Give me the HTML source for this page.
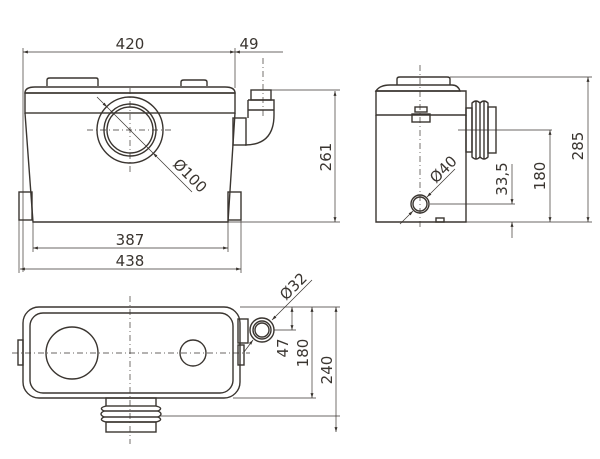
<!DOCTYPE html>
<html><head><meta charset="utf-8"><style>
html,body{margin:0;padding:0;background:#fff;}
svg{display:block}
text{font-family:"DejaVu Sans","Liberation Sans",sans-serif;font-size:15px;fill:#3a3530}
</style></head><body>
<svg width="600" height="459" viewBox="0 0 600 459" xmlns="http://www.w3.org/2000/svg">
<defs>
<marker id="a" viewBox="0 0 10 10" refX="10" refY="5" markerWidth="7" markerHeight="7" orient="auto-start-reverse"><path d="M0,2 L10,5 L0,8 z" fill="#3a3530"/></marker>
</defs>
<g fill="none" stroke="#3a3530" stroke-width="1.4">
<!-- FRONT VIEW -->
<path d="M47,86 V80 Q47,78 50,78 H96 Q98,78 98,80 V86"/>
<path d="M181,86 V82 Q181,80 184,80 H204 Q207,80 207,82 V86"/>
<path d="M25,93 Q25,87 35,87 H225 Q235,87 235,93 Z" />
<rect x="25" y="93" width="210" height="20"/>
<path d="M25,113 L33,222 H228 L235,113"/>
<rect x="19" y="192" width="13" height="28"/>
<rect x="228" y="192" width="13" height="28"/>
<circle cx="130" cy="130" r="33"/>
<circle cx="130" cy="130" r="26"/>
<circle cx="130" cy="130" r="23"/>
<rect x="233" y="118" width="13" height="27"/>
<rect x="251" y="90" width="20" height="10"/>
<path d="M248,100 H274 V115 Q274,145 245,145 M248,100 V118"/>
<line x1="248" y1="110" x2="274" y2="110"/>
</g>
<g fill="none" stroke="#3a3530" stroke-width="0.7">
<line x1="130" y1="88" x2="130" y2="175" stroke-dasharray="6,3,1,3"/>
<line x1="87" y1="130" x2="173" y2="130" stroke-dasharray="6,3,1,3"/>
<line x1="263" y1="58" x2="263" y2="118" stroke-dasharray="6,3,1,3"/>
<line x1="23" y1="48" x2="23" y2="272"/>
<line x1="235" y1="48" x2="235" y2="88"/>
<line x1="263" y1="52" x2="283" y2="52"/>
<line x1="23" y1="52" x2="235" y2="52" marker-start="url(#a)" marker-end="url(#a)"/>
<line x1="235" y1="52" x2="263" y2="52" marker-start="url(#a)"/>
<line x1="271" y1="90" x2="340" y2="90"/>
<line x1="228" y1="222" x2="340" y2="222"/>
<line x1="335" y1="91" x2="335" y2="222" marker-start="url(#a)" marker-end="url(#a)"/>
<line x1="33" y1="222" x2="33" y2="252"/>
<line x1="228" y1="222" x2="228" y2="252"/>
<line x1="33" y1="248" x2="228" y2="248" marker-start="url(#a)" marker-end="url(#a)"/>
<line x1="19" y1="220" x2="19" y2="273"/>
<line x1="241" y1="220" x2="241" y2="273"/>
<line x1="20" y1="269" x2="241" y2="269" marker-start="url(#a)" marker-end="url(#a)"/>
<line x1="97" y1="97" x2="107" y2="107" marker-end="url(#a)"/>
<line x1="107" y1="107" x2="153" y2="153"/>
<line x1="192" y1="192" x2="153" y2="153" marker-end="url(#a)"/>
</g>
<text x="130" y="49" text-anchor="middle">420</text>
<text x="249" y="49" text-anchor="middle">49</text>
<text x="130" y="245" text-anchor="middle">387</text>
<text x="130" y="266" text-anchor="middle">438</text>
<text transform="translate(331,157) rotate(-90)" text-anchor="middle">261</text>
<text transform="translate(172,165) rotate(45)">Ø100</text>

<!-- SIDE VIEW -->
<g fill="none" stroke="#3a3530" stroke-width="1.4">
<path d="M397,85 V79 Q397,77 400,77 H447 Q450,77 450,79 V85"/>
<path d="M390,85 H452 Q458,85 460,91 H376 Q380,85 390,85 Z"/>
<path d="M376,91 H466 V115 H376 Z"/>
<path d="M376,115 V222 H466 V115"/>
<rect x="415" y="107" width="12" height="5"/>
<rect x="412" y="114" width="18" height="8"/>
<rect x="466" y="108" width="6" height="44"/>
<path d="M472,103 Q476,99 480,103 Q484,99 488,103 V157 Q484,161 480,157 Q476,161 472,157 Z"/>
<line x1="476" y1="101" x2="476" y2="159"/><line x1="480" y1="103" x2="480" y2="157"/><line x1="484" y1="101" x2="484" y2="159"/>
<rect x="488" y="107" width="8" height="46"/>
<circle cx="420" cy="204" r="9"/>
<circle cx="420" cy="204" r="7"/>
<rect x="436" y="218" width="8" height="4"/>
</g>
<g fill="none" stroke="#3a3530" stroke-width="0.7">
<line x1="420" y1="65" x2="420" y2="230" stroke-dasharray="6,3,1,3"/>
<line x1="458" y1="130" x2="552" y2="130"/>
<line x1="450" y1="77" x2="592" y2="77"/>
<line x1="466" y1="222" x2="592" y2="222"/>
<line x1="430" y1="204" x2="515" y2="204"/>
<line x1="550" y1="130" x2="550" y2="222" marker-start="url(#a)" marker-end="url(#a)"/>
<line x1="588" y1="77" x2="588" y2="222" marker-start="url(#a)" marker-end="url(#a)"/>
<line x1="512" y1="164" x2="512" y2="204" marker-end="url(#a)"/>
<line x1="512" y1="238" x2="512" y2="222" marker-end="url(#a)"/>
<line x1="400" y1="224" x2="413" y2="211" marker-end="url(#a)"/>
<line x1="455" y1="169" x2="427" y2="197" marker-end="url(#a)"/>
</g>
<text transform="translate(545,176) rotate(-90)" text-anchor="middle">180</text>
<text transform="translate(583,146) rotate(-90)" text-anchor="middle">285</text>
<text transform="translate(507,179) rotate(-90)" text-anchor="middle">33,5</text>
<text transform="translate(436,184) rotate(-45)">Ø40</text>

<!-- TOP VIEW -->
<g fill="none" stroke="#3a3530" stroke-width="1.4">
<rect x="23" y="307" width="217" height="91" rx="16"/>
<rect x="30" y="313" width="203" height="80" rx="13"/>
<circle cx="72" cy="353" r="26"/>
<circle cx="193" cy="353" r="13"/>
<rect x="18" y="340" width="5" height="25"/>
<rect x="238" y="345" width="6" height="20"/>
<rect x="238" y="319" width="10" height="24"/>
<circle cx="262" cy="330" r="12"/>
<circle cx="262" cy="330" r="9"/>
<circle cx="262" cy="330" r="7"/>
<rect x="106" y="398" width="50" height="8"/>
<path d="M106,406 Q98,408 104,411 Q98,414 104,417 Q98,420 106,422 H156 Q164,420 158,417 Q164,414 158,411 Q164,408 156,406"/>
<line x1="104" y1="411" x2="158" y2="411"/><line x1="104" y1="417" x2="158" y2="417"/>
<rect x="106" y="422" width="50" height="10"/>
</g>
<g fill="none" stroke="#3a3530" stroke-width="0.7">
<line x1="130" y1="296" x2="130" y2="444" stroke-dasharray="6,3,1,3"/>
<line x1="12" y1="353" x2="250" y2="353" stroke-dasharray="6,3,1,3"/>
<line x1="240" y1="307" x2="340" y2="307"/>
<line x1="274" y1="330" x2="296" y2="330"/>
<line x1="233" y1="398" x2="316" y2="398"/>
<line x1="160" y1="416" x2="340" y2="416"/>
<line x1="292" y1="307" x2="292" y2="330" marker-start="url(#a)" marker-end="url(#a)"/>
<line x1="312" y1="307" x2="312" y2="398" marker-start="url(#a)" marker-end="url(#a)"/>
<line x1="336" y1="307" x2="336" y2="432" marker-start="url(#a)" marker-end="url(#a)"/>
<line x1="312" y1="280" x2="272" y2="320" marker-end="url(#a)"/>
<line x1="244" y1="352" x2="253" y2="340" marker-end="url(#a)"/>
</g>
<text transform="translate(288,348) rotate(-90)" text-anchor="middle">47</text>
<text transform="translate(308,353) rotate(-90)" text-anchor="middle">180</text>
<text transform="translate(332,370) rotate(-90)" text-anchor="middle">240</text>
<text transform="translate(286,301) rotate(-45)">Ø32</text>
</svg>
</body></html>
